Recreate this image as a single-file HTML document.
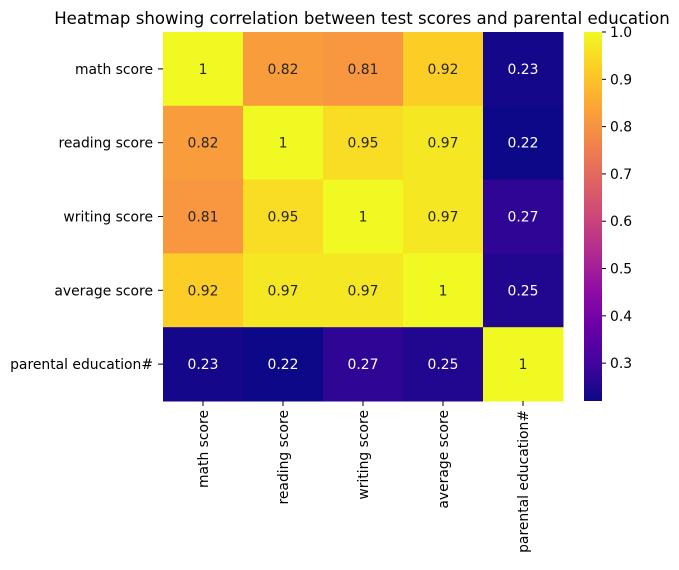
<!DOCTYPE html>
<html><head><meta charset="utf-8"><style>
body{margin:0;background:#fff;}
svg{font-family:"DejaVu Sans","Liberation Sans",sans-serif;}
</style></head><body>
<svg id="chart" width="679" height="565" xmlns="http://www.w3.org/2000/svg">
<defs><linearGradient id="cbg" x1="0" y1="1" x2="0" y2="0">
<stop offset="0" stop-color="#0d0887"/><stop offset="0.1" stop-color="#41049d"/><stop offset="0.2" stop-color="#6a00a8"/><stop offset="0.3" stop-color="#8f0da4"/><stop offset="0.4" stop-color="#b12a90"/><stop offset="0.5" stop-color="#cc4778"/><stop offset="0.6" stop-color="#e16462"/><stop offset="0.7" stop-color="#f2844b"/><stop offset="0.8" stop-color="#fca636"/><stop offset="0.9" stop-color="#fcce25"/><stop offset="1" stop-color="#f0f921"/>
</linearGradient></defs>
<text x="362" y="24" text-anchor="middle" font-size="16.6" fill="#000">Heatmap showing correlation between test scores and parental education</text>
<g id="cells"></g>
<rect x="584" y="32" width="18" height="369" fill="url(#cbg)"/>
<g id="cbticks"></g>
</svg>
<script>
const categories = ["math score","reading score","writing score","average score","parental education#"];
const values = [
 [1,0.82,0.81,0.92,0.23],
 [0.82,1,0.95,0.97,0.22],
 [0.81,0.95,1,0.97,0.27],
 [0.92,0.97,0.97,1,0.25],
 [0.23,0.22,0.27,0.25,1]
];
const cbTicks = [0.3,0.4,0.5,0.6,0.7,0.8,0.9,1.0];
const vmin = 0.22, vmax = 1.0;

const NS="http://www.w3.org/2000/svg";
const FS=13.9;
const X0=163,X1=563,Y0=32,Y1=401;
const cw=(X1-X0)/categories.length, ch=(Y1-Y0)/categories.length;
const xPos=i=>X0+i*cw, yPos=i=>Y0+i*ch;
const cbY=v=>Y1-(v-vmin)/(vmax-vmin)*(Y1-Y0);
const stops=["#0d0887","#41049d","#6a00a8","#8f0da4","#b12a90","#cc4778","#e16462","#f2844b","#fca636","#fcce25","#f0f921"].map(h=>[1,3,5].map(k=>parseInt(h.substr(k,2),16)));
function cmap(v){let t=Math.max(0,Math.min(1,(v-vmin)/(vmax-vmin)))*10;let i=Math.min(9,Math.floor(t)),f=t-i;return stops[i].map((c,k)=>Math.round(c+(stops[i+1][k]-c)*f));}
function lum(c){const l=c.map(x=>{x/=255;return x<=0.03928?x/12.92:Math.pow((x+0.055)/1.055,2.4)});return 0.2126*l[0]+0.7152*l[1]+0.0722*l[2];}
function mk(tag,attrs,parent,txt){const e=document.createElementNS(NS,tag);for(const k in attrs)e.setAttribute(k,attrs[k]);if(txt!==undefined)e.textContent=txt;parent.appendChild(e);return e;}
const g=document.getElementById('cells');
values.forEach((row,r)=>row.forEach((v,c)=>{
 const col=cmap(v);
 const rect=mk('rect',{x:xPos(c),y:yPos(r),width:cw+0.5,height:ch+0.5,fill:`rgb(${col})`},g);
 
 
 const t=mk('text',{x:xPos(c)+cw/2,y:yPos(r)+ch/2+5,'text-anchor':'middle','font-size':FS,fill:lum(col)>0.408?'#262626':'#ffffff'},g,String(v));
 
 
}));
categories.forEach((cat,i)=>{
 const yl=mk('text',{x:153,y:yPos(i)+ch/2+5,'text-anchor':'end','font-size':FS,fill:'#000'},g,cat);
 
 
 mk('line',{x1:158,x2:163,y1:yPos(i)+ch/2,y2:yPos(i)+ch/2,stroke:'#000'},g);
 const xc=xPos(i)+cw/2;
 mk('line',{x1:xc,x2:xc,y1:401,y2:406,stroke:'#000'},g);
 const xl=mk('text',{x:0,y:0,'text-anchor':'end','font-size':FS,fill:'#000',transform:`translate(${xc+5},410) rotate(-90)`},g,cat);
 
 
});
const cb=document.getElementById('cbticks');
cbTicks.forEach(v=>{
 const y=cbY(v);
 mk('line',{x1:602,x2:606,y1:y,y2:y,stroke:'#000'},cb);
 const t=mk('text',{x:610,y:y+5,'font-size':FS,fill:'#000'},cb,v.toFixed(1));
 
 
});
</script>
</body></html>
